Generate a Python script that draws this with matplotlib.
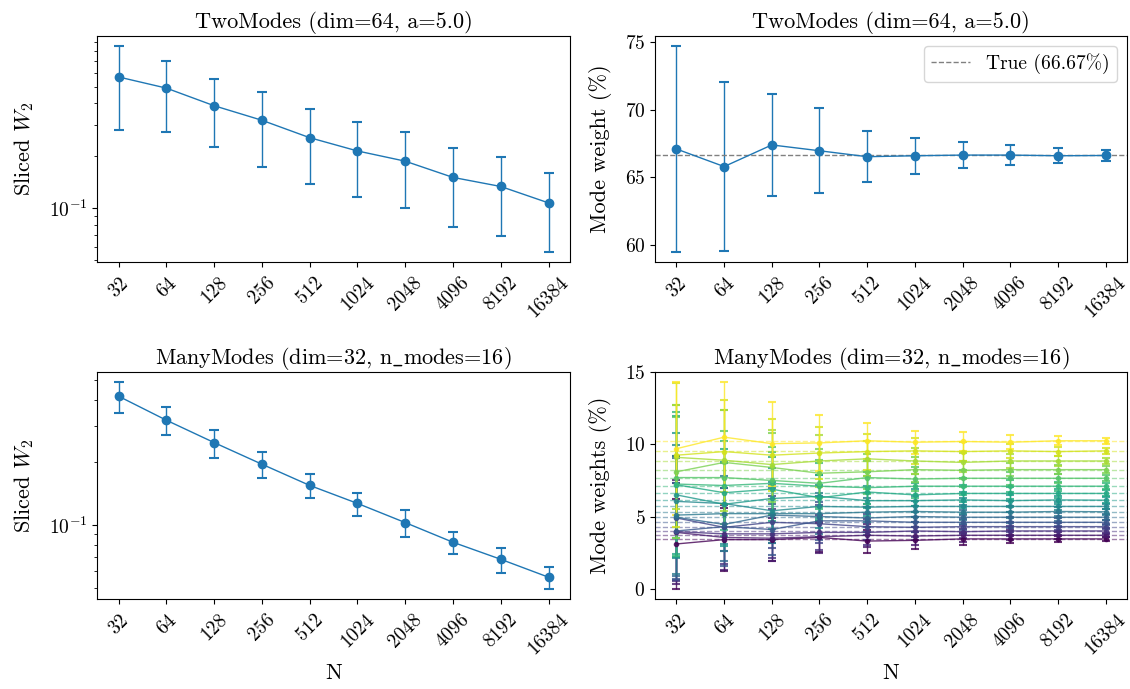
import numpy as np
import matplotlib
matplotlib.use('Agg')
import matplotlib.pyplot as plt
from matplotlib.ticker import NullFormatter, NullLocator

plt.rcParams['font.family'] = ['cmr10', 'DejaVu Serif']
plt.rcParams['mathtext.fontset'] = 'cm'
plt.rcParams['axes.formatter.use_mathtext'] = True
plt.rcParams['axes.unicode_minus'] = False

# -------------------------------
# data
# -------------------------------
N = [32, 64, 128, 256, 512, 1024, 2048, 4096, 8192, 16384]
n_labels = [str(n) for n in N]

# TwoModes (dim=64, a=5.0)
two_sw2_mean = [0.568, 0.490, 0.388, 0.320, 0.254, 0.213, 0.186, 0.150, 0.133, 0.107]
two_sw2_std = [0.285, 0.215, 0.163, 0.148, 0.117, 0.098, 0.086, 0.072, 0.064, 0.051]
two_w_mean = [67.1, 65.8, 67.4, 66.97, 66.53, 66.6, 66.65, 66.65, 66.6, 66.62]
two_w_std = [7.6, 6.25, 3.8, 3.13, 1.87, 1.35, 0.94, 0.75, 0.57, 0.38]
two_w_true = 66.67

# ManyModes (dim=32, n_modes=16)
many_sw2_mean = [0.416, 0.319, 0.249, 0.196, 0.155, 0.127, 0.1027, 0.0826, 0.0684, 0.0561]
many_sw2_std = [0.069, 0.049, 0.038, 0.028, 0.020, 0.016, 0.0147, 0.0104, 0.0095, 0.0067]

many_true = [3.45, 3.70, 4.00, 4.30, 4.60, 4.95, 5.33, 5.70,
             6.13, 6.60, 7.10, 7.65, 8.25, 8.85, 9.55, 10.25]

many_mean = [
    [3.1, 3.4, 3.4, 3.55, 3.3, 3.35, 3.45, 3.45, 3.45, 3.45],
    [3.9, 3.55, 3.5, 3.6, 3.7, 3.65, 3.7, 3.7, 3.7, 3.7],
    [3.95, 3.8, 3.8, 3.9, 3.9, 4.0, 3.95, 4.0, 4.0, 4.0],
    [4.9, 4.25, 4.6, 4.5, 4.3, 4.25, 4.3, 4.3, 4.3, 4.3],
    [4.0, 4.3, 4.1, 4.7, 4.7, 4.6, 4.6, 4.6, 4.6, 4.6],
    [4.95, 4.45, 5.1, 5.0, 4.9, 5.0, 4.95, 4.95, 4.95, 4.95],
    [5.1, 5.2, 5.2, 5.2, 5.3, 5.35, 5.3, 5.3, 5.35, 5.33],
    [6.05, 5.9, 5.4, 5.7, 5.65, 5.7, 5.7, 5.7, 5.7, 5.7],
    [6.5, 5.85, 6.25, 6.4, 6.1, 6.1, 6.15, 6.1, 6.15, 6.13],
    [7.2, 6.65, 6.9, 6.3, 6.7, 6.5, 6.6, 6.6, 6.6, 6.6],
    [7.25, 7.15, 7.3, 7.1, 7.0, 7.1, 7.1, 7.1, 7.1, 7.1],
    [7.7, 7.7, 7.5, 7.3, 7.7, 7.6, 7.65, 7.65, 7.65, 7.65],
    [8.1, 8.75, 8.4, 8.0, 8.1, 8.25, 8.2, 8.25, 8.25, 8.25],
    [9.1, 8.9, 8.6, 8.85, 9.0, 8.85, 8.75, 8.85, 8.85, 8.85],
    [9.25, 9.5, 9.25, 9.4, 9.5, 9.55, 9.5, 9.55, 9.5, 9.55],
    [9.7, 10.5, 10.05, 10.1, 10.25, 10.15, 10.2, 10.15, 10.25, 10.25],
]

many_std = [
    [3.1, 2.2, 1.5, 1.0, 0.8, 0.6, 0.4, 0.3, 0.2, 0.15],
    [3.6, 2.25, 1.6, 1.1, 0.8, 0.6, 0.45, 0.35, 0.25, 0.15],
    [3.4, 2.1, 1.7, 1.2, 0.9, 0.65, 0.45, 0.35, 0.25, 0.18],
    [4.3, 1.65, 1.8, 1.3, 0.9, 0.7, 0.5, 0.35, 0.25, 0.18],
    [3.3, 2.7, 1.8, 1.3, 0.95, 0.7, 0.5, 0.38, 0.27, 0.18],
    [4.1, 2.5, 1.9, 1.4, 1.0, 0.72, 0.5, 0.38, 0.27, 0.2],
    [4.1, 2.6, 2.0, 1.4, 1.0, 0.75, 0.52, 0.4, 0.28, 0.2],
    [3.9, 2.8, 2.0, 1.5, 1.0, 0.75, 0.55, 0.4, 0.28, 0.2],
    [4.3, 2.9, 2.1, 1.5, 1.05, 0.8, 0.55, 0.42, 0.3, 0.2],
    [4.8, 3.0, 2.2, 1.55, 1.1, 0.8, 0.57, 0.42, 0.3, 0.21],
    [5.0, 3.1, 2.2, 1.6, 1.1, 0.82, 0.58, 0.43, 0.3, 0.21],
    [4.2, 3.2, 2.3, 1.65, 1.15, 0.85, 0.6, 0.44, 0.31, 0.22],
    [4.6, 3.65, 2.4, 1.7, 1.2, 0.87, 0.62, 0.45, 0.32, 0.22],
    [3.6, 3.5, 2.4, 1.8, 1.2, 0.9, 0.63, 0.46, 0.33, 0.23],
    [5.0, 3.6, 2.5, 1.8, 1.25, 0.9, 0.65, 0.47, 0.33, 0.23],
    [4.6, 3.8, 2.9, 1.95, 1.25, 0.8, 0.65, 0.5, 0.3, 0.2],
]

# -------------------------------
# figure
# -------------------------------
W, H = 1130, 689
fig = plt.figure(figsize=(W / 100, H / 100), dpi=100)


def box(x0, y0, x1, y1):
    """pixel box (left, top, right, bottom) -> figure fraction"""
    return [x0 / W, 1 - y1 / H, (x1 - x0) / W, (y1 - y0) / H]


ax_tl = fig.add_axes(box(97, 36, 570, 262))
ax_tr = fig.add_axes(box(655, 36, 1127, 262))
ax_bl = fig.add_axes(box(97, 372, 570, 599))
ax_br = fig.add_axes(box(655, 372, 1127, 599))

FS = 16
XTICK_FS = 14
YTICK_FS = 14
PAD = 9
blue = '#1f77b4'


def style_x(ax, xlabel=None):
    ax.set_xscale('log', base=2)
    ax.set_xticks(N)
    ax.set_xticklabels(n_labels, rotation=45, fontsize=XTICK_FS)
    ax.xaxis.set_minor_locator(NullLocator())
    ax.tick_params(axis='x', pad=5)
    if xlabel:
        ax.set_xlabel(xlabel, fontsize=FS)
    ax.tick_params(axis='y', labelsize=YTICK_FS)


# top left
ax_tl.errorbar(N, two_sw2_mean, yerr=two_sw2_std, fmt='o-', color=blue,
               markersize=6, linewidth=1, capsize=3.5, capthick=1.5)
ax_tl.set_yscale('log')
ax_tl.yaxis.set_minor_formatter(NullFormatter())
ax_tl.set_ylabel(r'Sliced $W_2$', fontsize=FS, labelpad=PAD)
ax_tl.set_title('TwoModes (dim=64, a=5.0)', fontsize=FS)
style_x(ax_tl)

# top right
ax_tr.errorbar(N, two_w_mean, yerr=two_w_std, fmt='o-', color=blue,
               markersize=6, linewidth=1, capsize=3.5, capthick=1.5)
ax_tr.axhline(two_w_true, color='gray', linestyle='--', linewidth=1,
              label='True (66.67%)')
ax_tr.set_ylabel('Mode weight (%)', fontsize=FS, labelpad=PAD)
ax_tr.set_title('TwoModes (dim=64, a=5.0)', fontsize=FS)
ax_tr.legend(loc='upper right', fontsize=YTICK_FS)
style_x(ax_tr)

# bottom left
ax_bl.errorbar(N, many_sw2_mean, yerr=many_sw2_std, fmt='o-', color=blue,
               markersize=6, linewidth=1, capsize=3.5, capthick=1.5)
ax_bl.set_yscale('log')
ax_bl.yaxis.set_minor_formatter(NullFormatter())
ax_bl.set_ylabel(r'Sliced $W_2$', fontsize=FS, labelpad=PAD)
ax_bl.set_title(r'ManyModes (dim=32, n$\_$modes=16)', fontsize=FS)
style_x(ax_bl, 'N')

# bottom right
cmap = plt.get_cmap('viridis')
k = len(many_true)
for i in range(k):
    c = cmap(i / (k - 1))
    ax_br.errorbar(N, many_mean[i], yerr=many_std[i], fmt='o-', color=c,
                   markersize=3, linewidth=1, capsize=3, capthick=1.5, alpha=0.8)
    ax_br.axhline(many_true[i], color=c, linestyle='--', linewidth=1, alpha=0.5)
ax_br.set_ylabel('Mode weights (%)', fontsize=FS, labelpad=PAD)
ax_br.set_title(r'ManyModes (dim=32, n$\_$modes=16)', fontsize=FS)
style_x(ax_br, 'N')

fig.savefig('out.png', dpi=100)
